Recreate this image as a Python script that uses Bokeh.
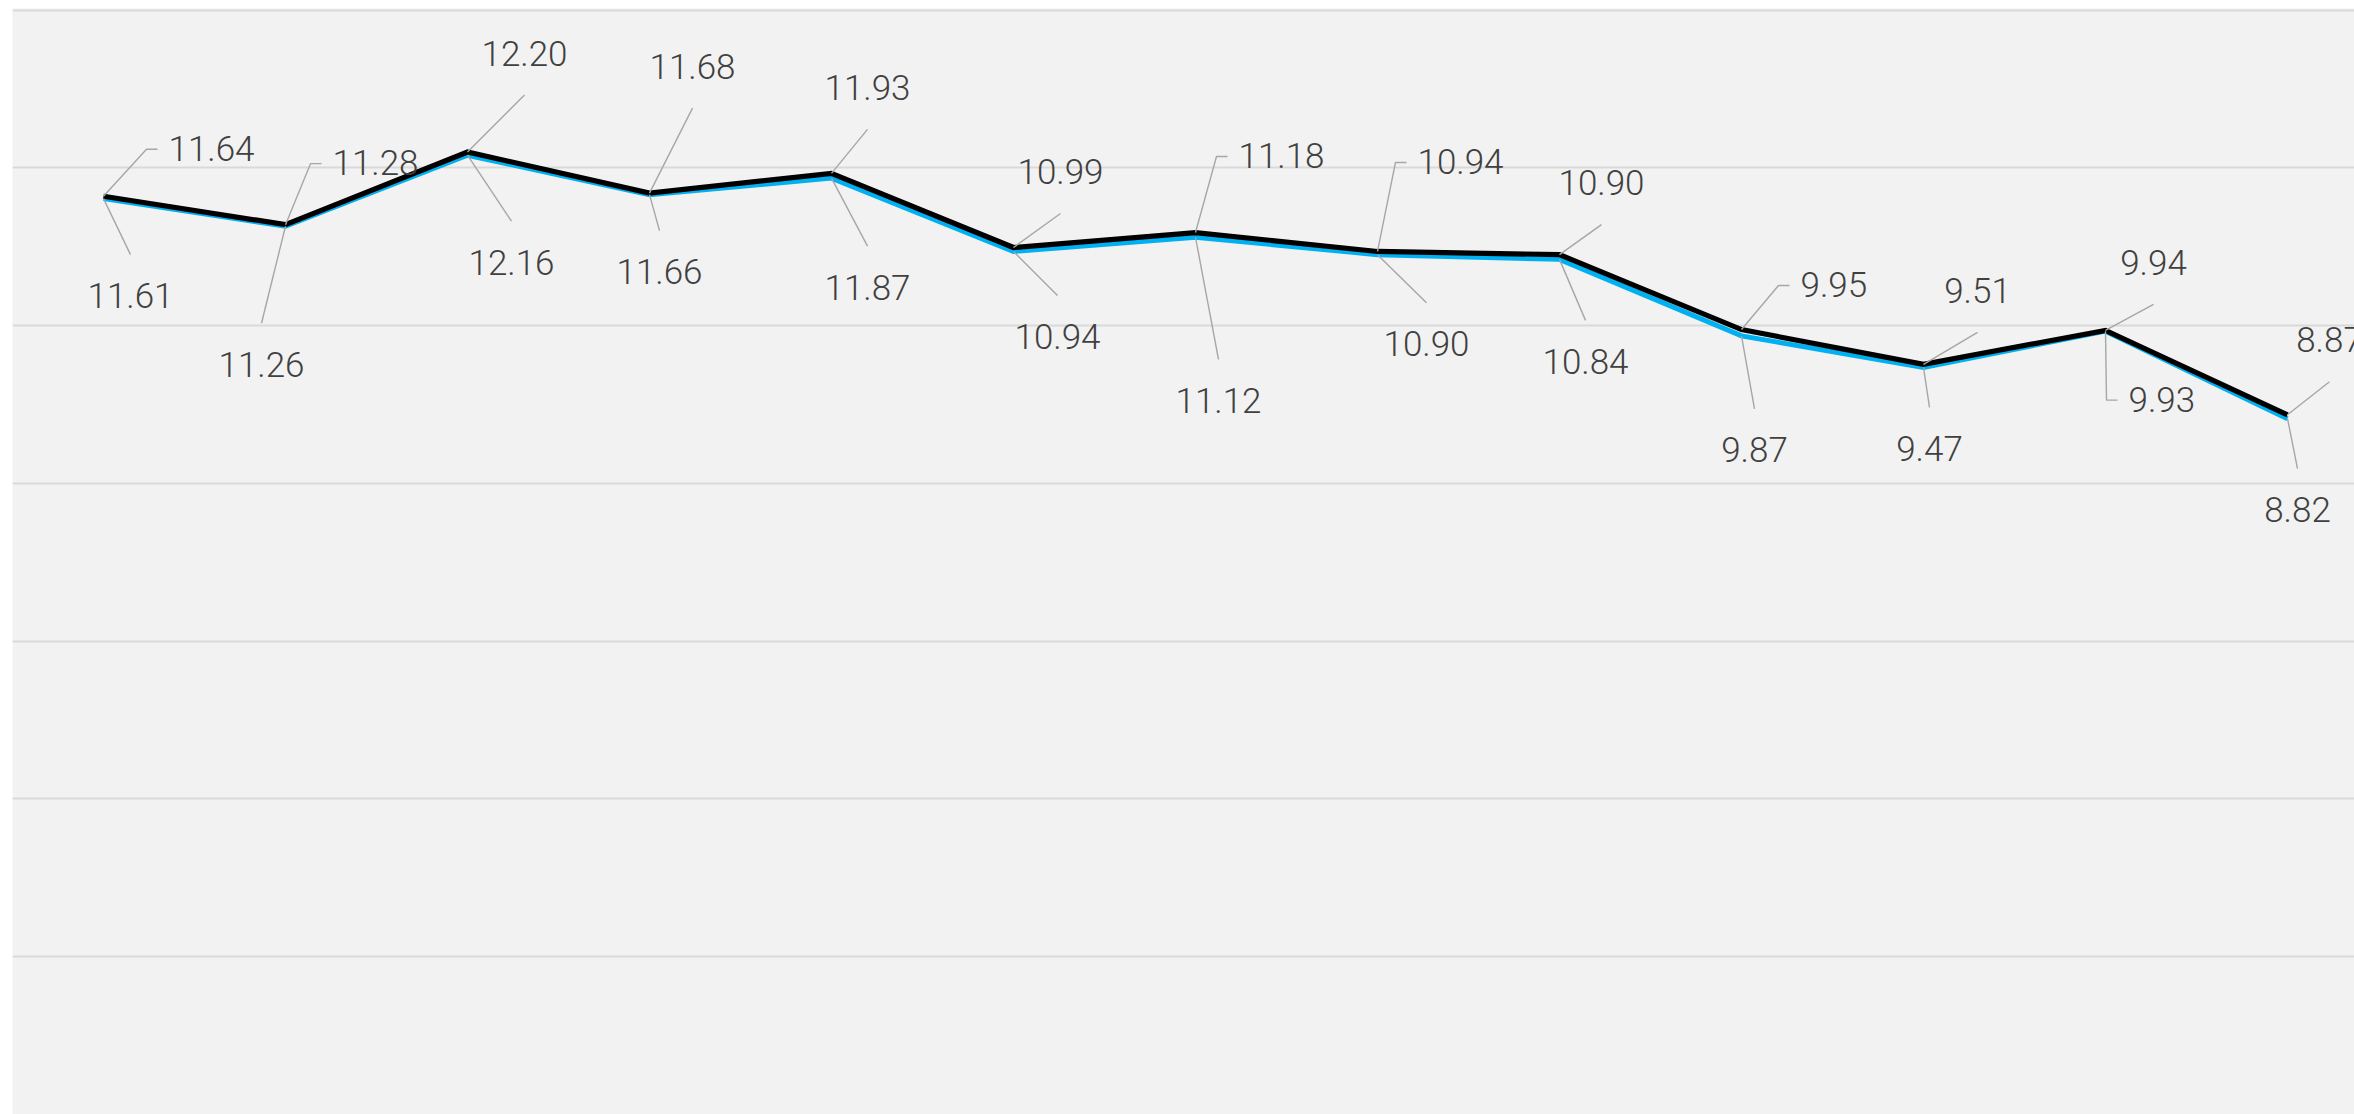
from bokeh.plotting import figure
from bokeh.models import Range1d, FixedTicker
from bokeh.core.properties import value
from bokeh.embed import file_html
from bokeh.resources import INLINE

# ---- data ----
series_black = [11.64, 11.28, 12.20, 11.68, 11.93, 10.99, 11.18, 10.94, 10.90, 9.95, 9.51, 9.94, 8.87]
series_blue = [11.61, 11.26, 12.16, 11.66, 11.87, 10.94, 11.12, 10.90, 10.84, 9.87, 9.47, 9.93, 8.82]
y_ticks = [0, 2, 4, 6, 8, 10, 12, 14]

# ---- label leader styling (screen pixel offsets, y downwards) ----
black_leader = [(43, -47, True), (25, -61, True), (57, -57, False), (43, -85, False),
                (36, -44, False), (47, -34, False), (21, -76, True), (18, -89, True),
                (42, -30, False), (37, -44, True), (54, -32, False), (48, -26, False),
                (42, -33, False)]
blue_leader = [(27, 56, False), (-24, 97, False), (44, 66, False), (10, 36, False),
               (36, 68, False), (44, 44, False), (23, 122, False), (49, 48, False),
               (26, 61, False), (13, 73, False), (6, 40, False), (1, 69, True),
               (10, 50, False)]

W, H = 2354, 1114
BL, BT = 12, 8
X0, X1 = -0.5, -0.5 + (W - BL) / 182.0
Y0, Y1 = 0.0, 14.02
ppx = (W - BL) / (X1 - X0)
ppy = (H - BT) / (Y1 - Y0)

p = figure(width=W, height=H, x_range=Range1d(X0, X1), y_range=Range1d(Y0, Y1),
           output_backend="svg", toolbar_location=None,
           x_axis_location=None, y_axis_location=None,
           min_border_left=BL, min_border_right=0, min_border_top=BT, min_border_bottom=0)
p.background_fill_color = "#F2F2F2"
p.border_fill_color = "white"
p.outline_line_color = None
p.xgrid.visible = False
p.ygrid.ticker = FixedTicker(ticks=y_ticks)
p.ygrid.grid_line_color = "#D9D9D9"
p.ygrid.grid_line_width = 2

xs = list(range(len(series_black)))

p.line(xs, series_blue, line_color="#00B0F0", line_width=5.0, line_join="miter")
p.line(xs, series_black, line_color="black", line_width=5.2, line_join="miter")

lead_xs, lead_ys = [], []
tx_c, ty_c, tt_c = [], [], []
tx_l, ty_l, tt_l = [], [], []
ELB = 11
GAP = 11
for vals, leaders in ((series_black, black_leader), (series_blue, blue_leader)):
    for i, (v, (dx, dy, elbow)) in enumerate(zip(vals, leaders)):
        ex = i + dx / ppx
        ey = v - dy / ppy
        label = f"{v:.2f}"
        if elbow:
            hx = ex + ELB / ppx
            lead_xs.append([i, ex, hx])
            lead_ys.append([v, ey, ey])
            tx_l.append(hx + GAP / ppx)
            ty_l.append(ey + 1 / ppy)
            tt_l.append(label)
        else:
            lead_xs.append([i, ex])
            lead_ys.append([v, ey])
            tx_c.append(ex)
            ty_c.append(ey + (42 if dy < 0 else -41) / ppy)
            tt_c.append(label)

p.multi_line(lead_xs, lead_ys, line_color="#A6A6A6", line_width=1.4)

font = value("Roboto Light, Roboto")
p.text(tx_c, ty_c, text=tt_c, text_font=font, text_font_size="35px",
       text_color="#404040", text_align="center", text_baseline="middle")
p.text(tx_l, ty_l, text=tt_l, text_font=font, text_font_size="35px",
       text_color="#404040", text_align="left", text_baseline="middle")

open("out.html", "w").write(file_html(p, INLINE))
